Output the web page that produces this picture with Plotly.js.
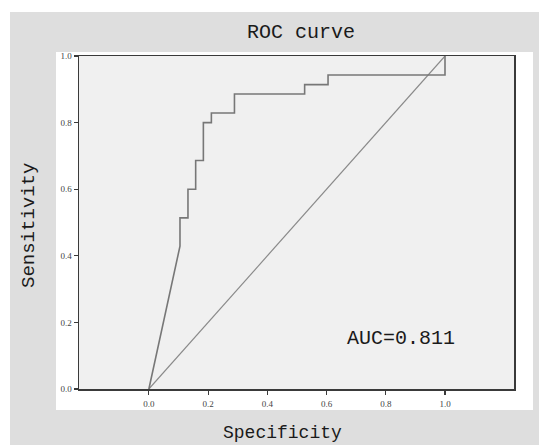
<!DOCTYPE html>
<html>
<head>
<meta charset="utf-8">
<script src="https://cdn.plot.ly/plotly-3.0.1.min.js"></script>
<style>html,body{margin:0;padding:0;background:#fff;}#chart{width:539px;height:445px;}</style>
</head>
<body>
<div id="chart"></div>
<script>
// ROC curve points (1 - specificity, sensitivity)
const rocX = [0, 0.105, 0.105, 0.132, 0.132, 0.158, 0.158, 0.184, 0.184, 0.211, 0.211, 0.289, 0.289, 0.526, 0.526, 0.605, 0.605, 1.0, 1.0];
const rocY = [0, 0.429, 0.514, 0.514, 0.600, 0.600, 0.686, 0.686, 0.800, 0.800, 0.829, 0.829, 0.886, 0.886, 0.914, 0.914, 0.943, 0.943, 1.0];
// Reference diagonal
const refX = [0, 1];
const refY = [0, 1];
const tickVals = [0, 0.2, 0.4, 0.6, 0.8, 1.0];
const tickText = ['0.0', '0.2', '0.4', '0.6', '0.8', '1.0'];
const aucLabel = 'AUC=0.811';

const monoFont = 'Liberation Mono, DejaVu Sans Mono, monospace';
const serifFont = 'Liberation Serif, DejaVu Serif, serif';

const data = [
  {x: refX, y: refY, mode: 'lines', line: {color: '#8a8a8a', width: 1.2}, hoverinfo: 'skip', showlegend: false},
  {x: rocX, y: rocY, mode: 'lines', line: {color: '#777777', width: 1.6}, hoverinfo: 'skip', showlegend: false}
];

const axisCommon = {
  showgrid: false, zeroline: false, showline: true, mirror: true,
  linecolor: '#3a3a3a', linewidth: 1.5,
  ticks: 'outside', ticklen: 4, tickwidth: 1.2, tickcolor: '#3a3a3a',
  tickvals: tickVals, ticktext: tickText,
  tickfont: {family: serifFont, size: 9, color: '#444'},
  fixedrange: true
};

const layout = {
  width: 539, height: 445,
  margin: {l: 79, r: 25, t: 56, b: 56},
  paper_bgcolor: '#ffffff',
  plot_bgcolor: 'rgba(0,0,0,0)',
  showlegend: false,
  title: {text: 'ROC curve', font: {family: monoFont, size: 20, color: '#1a1a1a'},
          x: 301/539, xanchor: 'center', y: 1 - 31/445, yanchor: 'middle'},
  xaxis: Object.assign({}, axisCommon, {range: [-0.236, 1.233], ticklabelstandoff: 2}),
  yaxis: Object.assign({}, axisCommon, {range: [0, 1]}),
  shapes: [
    {type: 'rect', xref: 'paper', yref: 'paper', layer: 'below',
     x0: (10-79)/435, x1: (545-79)/435, y0: (389-450)/333, y1: (389-12)/333,
     fillcolor: '#dedede', line: {width: 0}},
    {type: 'rect', xref: 'paper', yref: 'paper', layer: 'below',
     x0: (56-79)/435, x1: (533-79)/435, y0: (389-410)/333, y1: (389-52)/333,
     fillcolor: '#ffffff', line: {width: 0}},
    {type: 'rect', xref: 'paper', yref: 'paper', layer: 'below',
     x0: 0, x1: 1, y0: 0, y1: 1,
     fillcolor: '#f0f0f0', line: {width: 0}}
  ],
  annotations: [
    {text: 'Specificity', xref: 'paper', yref: 'paper', x: (282-79)/435, y: (389-433)/333,
     xanchor: 'center', yanchor: 'middle', showarrow: false,
     font: {family: monoFont, size: 18, color: '#1a1a1a'}},
    {text: 'Sensitivity', xref: 'paper', yref: 'paper', x: (29-79)/435, y: (389-226)/333,
     xanchor: 'center', yanchor: 'middle', showarrow: false, textangle: -90,
     font: {family: monoFont, size: 19, color: '#1a1a1a'}},
    {text: aucLabel, xref: 'x', yref: 'y', x: 0.851, y: 0.153,
     xanchor: 'center', yanchor: 'middle', showarrow: false,
     font: {family: monoFont, size: 20, color: '#1a1a1a'}}
  ]
};

Plotly.newPlot('chart', data, layout, {staticPlot: true, displayModeBar: false});
</script>
</body>
</html>
